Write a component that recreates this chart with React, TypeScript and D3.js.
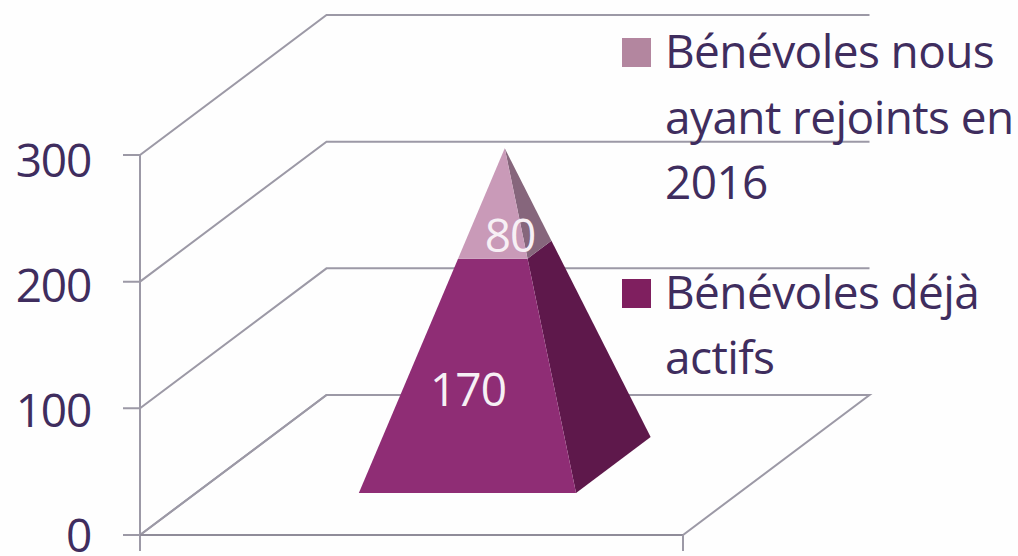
import React from "react";
import * as d3 from "d3";

const seriesNames = ["Bénévoles déjà actifs", "Bénévoles nous ayant rejoints en 2016"];
const seriesValues = [170, 80];
const yTicks = [0, 100, 200, 300];
const legendLines = [["Bénévoles nous", "ayant rejoints en", "2016"], ["Bénévoles déjà", "actifs"]];
const frontColors = ["#8f2d75", "#c99ab8"];
const sideColors = ["#5e184b", "#86667c"];
const legendColors = ["#b3869f", "#7f1f5f"];

const W = 1018, H = 556;
const FONT = "'Open Sans', 'Noto Sans', sans-serif";
const TEXT = "#3f2d5e";
const AXIS = "#9c99a6";
const FS = 46, LS = -0.6;

const xS = d3.scaleLinear().domain([0, 1]).range([140, 683]);
const yS = d3.scaleLinear().domain([0, 300]).range([535, 155]);
const labelY = d3.scaleLinear().domain([0, 300]).range([552, 177]);
const zX = d3.scaleLinear().domain([0, 1]).range([0, 186.5]);
const zY = d3.scaleLinear().domain([0, 1]).range([0, -140]);
const P = (x: number, v: number, z: number): [number, number] => [xS(x) + zX(z), yS(v) + zY(z)];
const line = d3.line();

const total = d3.sum(seriesValues);
const cx = 0.5, half = 0.2;
const edge = (dx: number, dz: number, v: number) => {
  const k = 1 - v / total;
  return P(cx + dx * half * k, v, cx + dz * half * k);
};
const stacks = d3.cumsum(seriesValues);

export default function App() {
  return (
    <svg width={W} height={H} style={{ position: "absolute", left: 0, top: 0, background: "#fefefe" }} fontFamily={FONT} fontSize={FS} letterSpacing={LS}>
      <path d={line([P(0, 0, 0), P(1, 0, 0), P(1, 0, 1), P(0, 0, 1), P(0, 0, 0)])!} fill="none" stroke={AXIS} strokeWidth={2} />
      {yTicks.map((t) => (
        <g key={t}>
          <path d={line([[123, yS(t)], P(0, t, 0), P(0, t, 1), P(1, t, 1)])!} fill="none" stroke={AXIS} strokeWidth={2} />
          <text x={91} y={labelY(t)} textAnchor="end" letterSpacing={-1.2} fill={TEXT}>{t}</text>
        </g>
      ))}
      <path d={line([[xS(0), yS(300)], [xS(0), 551]])!} stroke={AXIS} strokeWidth={2} fill="none" />
      <path d={line([[xS(0), yS(0)], [xS(1), yS(0)]])!} stroke="#8f8c99" strokeWidth={2} fill="none" />
      <path d={line([[xS(1), yS(0)], [xS(1), 551]])!} stroke={AXIS} strokeWidth={2} fill="none" />

      {seriesValues.map((v, i) => {
        const lo = i === 0 ? 0 : stacks[i - 1];
        const hi = stacks[i];
        return (
          <g key={seriesNames[i]}>
            <path d={line([edge(1, -1, lo), edge(1, 1, lo), edge(1, 1, hi), edge(1, -1, hi)])! + "Z"} fill={sideColors[i]} />
            <path d={line([edge(-1, -1, lo), edge(1, -1, lo), edge(1, -1, hi), edge(-1, -1, hi)])! + "Z"} fill={frontColors[i]} />
          </g>
        );
      })}
      <text x={468} y={406} textAnchor="middle" letterSpacing={-1} fill="#f7f0f5">{seriesValues[0]}</text>
      <text x={510} y={252} textAnchor="middle" letterSpacing={-1} fill="#f7f0f5">{seriesValues[1]}</text>

      <rect x={622} y={38} width={29} height={29} fill={legendColors[0]} />
      <rect x={622} y={279} width={29} height={29} fill={legendColors[1]} />
      {legendLines[0].map((s, i) => (
        <text key={s} x={665} y={68 + i * 65.5} fill={TEXT}>{s}</text>
      ))}
      {legendLines[1].map((s, i) => (
        <text key={s} x={665} y={308.5 + i * 65.5} fill={TEXT}>{s}</text>
      ))}
    </svg>
  );
}
